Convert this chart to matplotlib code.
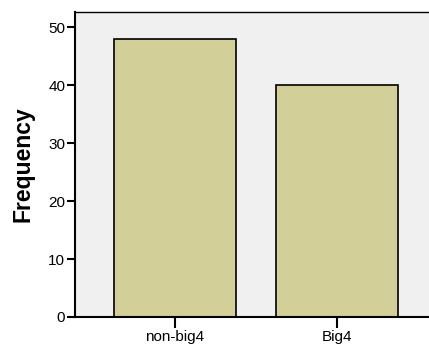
import matplotlib.pyplot as plt

# category frequencies
categories = ["non-big4", "Big4"]
frequencies = [48, 40]
y_ticks = [0, 10, 20, 30, 40, 50]

plt.rcParams['font.family'] = ['Liberation Sans', 'DejaVu Sans']

fig = plt.figure(figsize=(4.29, 3.45), dpi=100)
# axes runs a little past the right edge like the original export
ax = fig.add_axes([75 / 429, 28 / 345, 362 / 429, 305 / 345])
ax.set_facecolor('#f0f0f0')

x = range(len(categories))
ax.bar(x, frequencies, width=0.75, color='#d3cf98', edgecolor='black', linewidth=1.2)

ax.set_xlim(-0.617, 1.617)
ax.set_ylim(0, 52.6)
ax.set_xticks(list(x))
ax.set_xticklabels(categories, fontsize=11)
ax.set_yticks(y_ticks)
ax.tick_params(axis='y', labelsize=11, length=6, width=1.5, pad=1)
ax.tick_params(axis='x', length=8, width=1.5, pad=1)

for side in ['left', 'bottom']:
    ax.spines[side].set_linewidth(1.5)
for side in ['top', 'right']:
    ax.spines[side].set_linewidth(1.0)

ax.set_ylabel('Frequency', fontsize=16.5, fontweight='bold', labelpad=10)

plt.savefig("out.png", dpi=100)
